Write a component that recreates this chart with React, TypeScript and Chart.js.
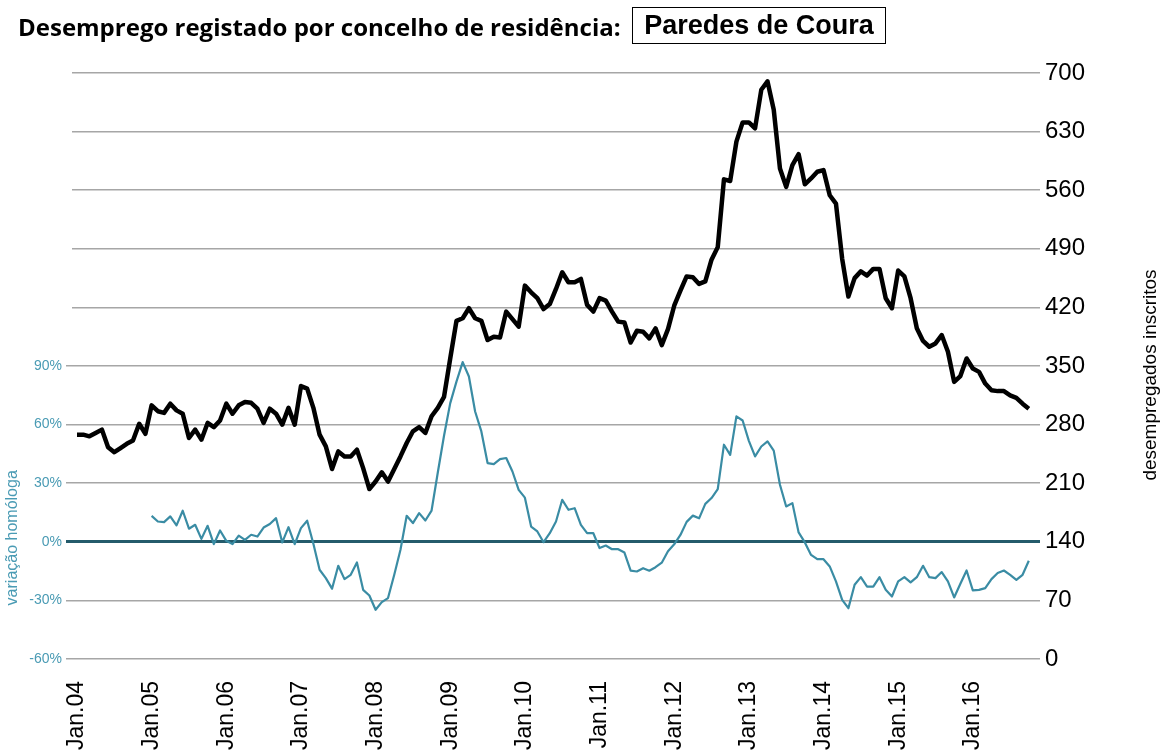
import React, { useEffect, useRef } from 'react';
import { Chart, registerables } from 'chart.js';

Chart.register(...registerables);

// Month index 0 = Jan 2004
const yearTickLabels = [
  'Jan.04', 'Jan.05', 'Jan.06', 'Jan.07', 'Jan.08', 'Jan.09', 'Jan.10',
  'Jan.11', 'Jan.12', 'Jan.13', 'Jan.14', 'Jan.15', 'Jan.16',
];

// desempregados inscritos (right axis), monthly Jan 2004 .. Oct 2016
const registered = [
  268, 268, 266, 270, 274, 253, 247, 252, 257, 261, 281, 269,
  303, 296, 294, 305, 297, 293, 264, 274, 262, 282, 277, 285,
  305, 293, 303, 307, 306, 299, 282, 299, 293, 280, 300, 280,
  326, 323, 300, 268, 254, 227, 248, 242, 242, 250, 228, 203,
  212, 223, 212, 227, 242, 258, 272, 277, 270, 290, 300, 313,
  359, 404, 407, 419, 407, 404, 381, 385, 384, 415, 406, 397,
  446, 438, 431, 418, 424, 442, 462, 450, 450, 454, 423, 415,
  431, 428, 415, 403, 402, 378, 392, 391, 383, 395, 375, 394,
  422, 440, 457, 456, 448, 451, 477, 492, 573, 571, 618, 641,
  641, 634, 680, 690, 656, 586, 564, 590, 603, 567, 574, 582,
  584, 554, 544, 478, 433, 455, 463, 458, 466, 466, 431, 419,
  464, 457, 431, 395, 380, 373, 377, 387, 367, 331, 338, 359,
  347, 343, 329, 321, 320, 320, 315, 312, 305, 299,
];

// variação homóloga (left axis, %), starts Jan 2005
const yoyStartIndex = 12;
const yoyChange = [
  13.3, 10.4, 10.1, 13.0, 8.4, 15.9, 6.7, 8.7, 1.5, 8.2, -1.2, 5.8,
  0.5, -1.2, 3.2, 1.0, 3.6, 2.7, 7.3, 9.1, 12.1, -0.3, 7.5, -1.2,
  7.0, 10.8, -1.0, -14.3, -18.6, -24.0, -12.3, -19.1, -16.9, -10.6, -24.6, -27.5,
  -34.8, -30.9, -28.8, -16.9, -4.1, 13.3, 9.6, 14.7, 10.9, 16.0, 35.5, 54.3,
  71.0, 82.0, 92.0, 84.6, 66.7, 56.5, 40.3, 39.8, 42.3, 42.9, 36.0, 26.6,
  22.6, 7.8, 5.3, -0.2, 4.4, 10.4, 21.5, 16.4, 17.2, 8.7, 4.4, 4.4,
  -3.2, -1.9, -3.8, -3.8, -5.5, -14.8, -15.2, -13.5, -14.8, -13.0, -10.7, -4.8,
  -1.3, 3.5, 10.2, 13.4, 12.0, 19.4, 22.4, 27.0, 49.7, 44.5, 64.2, 62.1,
  51.7, 43.7, 48.8, 51.4, 46.7, 29.2, 18.1, 19.8, 4.8, -0.3, -6.7, -8.9,
  -8.9, -12.6, -20.3, -29.7, -34.0, -22.0, -18.1, -22.9, -22.9, -18.1, -24.6, -28.0,
  -20.3, -18.1, -20.8, -18.1, -12.3, -18.1, -18.6, -15.5, -20.3, -28.5, -21.5, -14.7,
  -24.9, -24.6, -23.7, -19.1, -16.0, -14.7, -16.9, -19.5, -16.9, -9.7,
];

const rightTicks = [0, 70, 140, 210, 280, 350, 420, 490, 560, 630, 700];
const leftTicks = [-60, -30, 0, 30, 60, 90];

const FONT = '"Liberation Sans", Arial, sans-serif';
const GRID = '#a6a6a6';
const TEAL = '#3a8ca4';
const TEAL_TEXT = '#4a9bb4';
const ZERO = '#245b6b';

export default function App() {
  const ref = useRef<HTMLCanvasElement | null>(null);

  useEffect(() => {
    document.body.style.margin = '0';
    const canvas = ref.current;
    if (!canvas) return;

    const axisTitles = {
      id: 'axisTitles',
      afterDraw(chart: any) {
        const ctx = chart.ctx as CanvasRenderingContext2D;
        const area = chart.chartArea;
        ctx.save();
        ctx.textAlign = 'center';
        ctx.textBaseline = 'middle';
        // left title
        ctx.fillStyle = TEAL_TEXT;
        ctx.font = `16px ${FONT}`;
        ctx.translate(13, chart.scales.y1.getPixelForValue(0) - 4);
        ctx.rotate(-Math.PI / 2);
        ctx.fillText('variação homóloga', 0, 0);
        ctx.restore();
        // right title
        ctx.save();
        ctx.textAlign = 'center';
        ctx.textBaseline = 'middle';
        ctx.fillStyle = '#000';
        ctx.font = `19px ${FONT}`;
        ctx.translate(1151, (area.top + area.bottom) / 2 + 9);
        ctx.rotate(-Math.PI / 2);
        ctx.fillText('desempregados inscritos', 0, 0);
        ctx.restore();
      },
    };

    const chart = new Chart(canvas, {
      type: 'line',
      data: {
        datasets: [
          {
            label: 'desempregados inscritos',
            data: registered.map((v, i) => ({ x: i, y: v })),
            yAxisID: 'y',
            xAxisID: 'x',
            borderColor: '#000',
            borderWidth: 4.5,
            pointRadius: 0,
            tension: 0,
            borderJoinStyle: 'round',
          },
          {
            label: 'variação homóloga',
            data: yoyChange.map((v, i) => ({ x: i + yoyStartIndex, y: v })),
            yAxisID: 'y1',
            xAxisID: 'x',
            borderColor: TEAL,
            borderWidth: 2.2,
            pointRadius: 0,
            tension: 0,
            borderJoinStyle: 'round',
          },
        ],
      },
      options: {
        animation: false,
        responsive: false,
        maintainAspectRatio: false,
        layout: { padding: { top: 73, left: 0, right: 0, bottom: 0 } },
        plugins: {
          legend: { display: false },
          tooltip: { enabled: false },
          title: { display: false },
        },
        scales: {
          x: {
            type: 'linear',
            min: -0.8,
            max: 154.8,
            grid: { display: false, drawTicks: false },
            border: { display: false },
            afterBuildTicks: (s: any) => {
              s.ticks = yearTickLabels.map((_, i) => ({ value: i * 12 }));
            },
            ticks: {
              autoSkip: false,
              maxRotation: 90,
              minRotation: 90,
              padding: 22,
              color: '#000',
              font: { family: FONT, size: 23 },
              callback: (v: any) => yearTickLabels[Math.round(Number(v) / 12)] ?? '',
            },
            afterFit: (s: any) => {
              s.height = 93;
            },
          },
          y: {
            position: 'right',
            min: 0,
            max: 700,
            afterBuildTicks: (s: any) => {
              s.ticks = rightTicks.map((v) => ({ value: v }));
            },
            grid: {
              drawTicks: false,
              color: (c: any) => (c.tick && c.tick.value === 140 ? ZERO : GRID),
              lineWidth: (c: any) => (c.tick && c.tick.value === 140 ? 3 : 1.5),
            },
            border: { display: false },
            ticks: {
              padding: 5,
              color: '#000',
              font: { family: FONT, size: 24 },
            },
            afterFit: (s: any) => {
              s.width = 129;
            },
          },
          y1: {
            position: 'left',
            min: -60,
            max: 240,
            afterBuildTicks: (s: any) => {
              s.ticks = leftTicks.map((v) => ({ value: v }));
            },
            grid: {
              drawOnChartArea: false,
              drawTicks: true,
              tickLength: 6,
              color: (c: any) => (c.tick && c.tick.value === 0 ? ZERO : GRID),
              lineWidth: (c: any) => (c.tick && c.tick.value === 0 ? 3 : 1.5),
            },
            border: { display: false },
            ticks: {
              padding: 4,
              color: TEAL_TEXT,
              font: { family: FONT, size: 14 },
              callback: (v: any) => `${v}%`,
            },
            afterFit: (s: any) => {
              s.width = 72;
            },
          },
        },
      },
      plugins: [axisTitles],
    });

    return () => chart.destroy();
  }, []);

  return (
    <div style={{ position: 'relative', width: 1169, height: 752, overflow: 'hidden', background: '#fff' }}>
      <canvas ref={ref} width={1169} height={752} style={{ position: 'absolute', left: 0, top: 0, width: 1169, height: 752 }} />
      <div
        style={{
          position: 'absolute',
          left: 18,
          top: 9,
          fontFamily: '"Open Sans", sans-serif',
          fontWeight: 700,
          fontSize: 24,
          lineHeight: '36px',
          color: '#000',
          whiteSpace: 'nowrap',
        }}
      >
        Desemprego registado por concelho de residência:
      </div>
      <div
        style={{
          position: 'absolute',
          left: 632,
          top: 7,
          width: 254,
          height: 37,
          boxSizing: 'border-box',
          border: '1px solid #000',
          fontFamily: FONT,
          fontWeight: 700,
          fontSize: 27,
          lineHeight: '35px',
          textAlign: 'center',
          color: '#000',
          whiteSpace: 'nowrap',
        }}
      >
        Paredes de Coura
      </div>
    </div>
  );
}
